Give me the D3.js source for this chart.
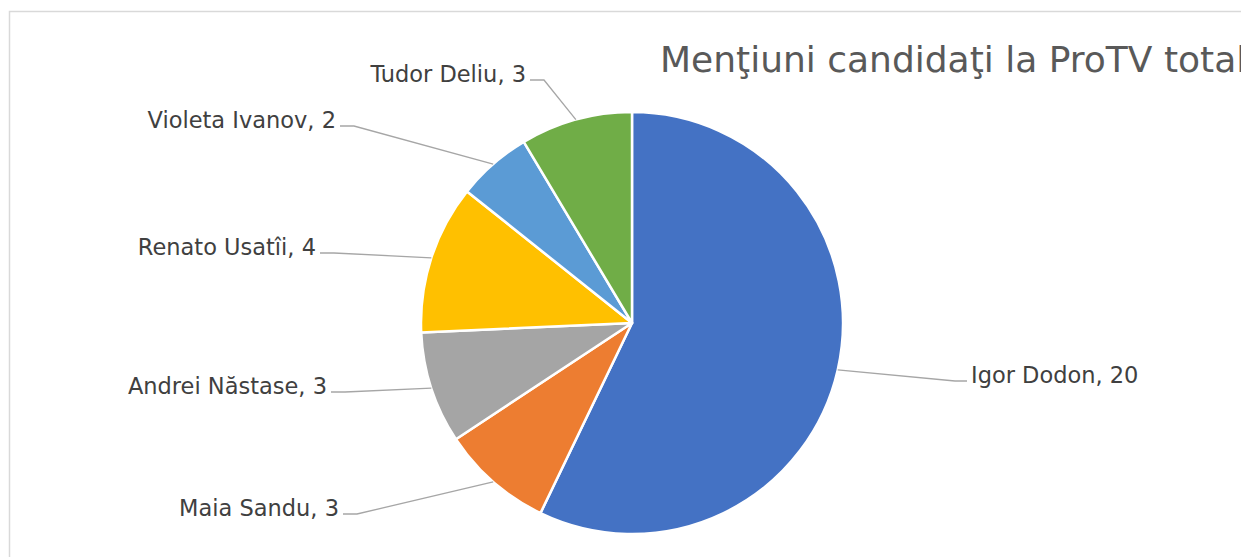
<!DOCTYPE html>
<html>
<head>
<meta charset="utf-8">
<script src="https://cdnjs.cloudflare.com/ajax/libs/d3/7.8.5/d3.min.js"></script>
<style>
body { margin: 0; background: #fff; }
svg { display: block; font-family: "DejaVu Sans", sans-serif; }
.lbl { font-size: 22.5px; fill: #404040; }
.title { font-size: 36px; fill: #595959; }
.leader { fill: none; stroke: #a6a6a6; stroke-width: 1.3; }
</style>
</head>
<body>
<svg width="1241" height="557"></svg>
<script>
// chart data
var names = ["Igor Dodon", "Maia Sandu", "Andrei Năstase", "Renato Usatîi", "Violeta Ivanov", "Tudor Deliu"];
var counts = [20, 3, 3, 4, 2, 3];
var colors = ["#4472C4", "#ED7D31", "#A5A5A5", "#FFC000", "#5B9BD5", "#70AD47"];

// where each data label sits (text baseline end / start), Excel "best fit"
var labelAt = [[971, 383], [339, 516], [327, 394], [316, 255], [336, 128], [526, 82]];

var svg = d3.select("svg");

// chart frame
svg.append("rect")
  .attr("x", 9.5).attr("y", 11.5)
  .attr("width", 1300).attr("height", 600)
  .attr("fill", "#fff")
  .attr("stroke", "#d9d9d9")
  .attr("stroke-width", 1.5);

var cx = 632, cy = 323, R = 211;
var g = svg.append("g").attr("transform", "translate(" + cx + "," + cy + ")");

var data = names.map(function(n, i) { return {name: n, value: counts[i], color: colors[i], i: i}; });

var pie = d3.pie().sort(null).value(function(d) { return d.value; });
var arc = d3.arc().innerRadius(0).outerRadius(R);
var arcs = pie(data);

g.selectAll("path.slice")
  .data(arcs)
  .enter().append("path")
  .attr("class", "slice")
  .attr("d", arc)
  .attr("fill", function(d) { return d.data.color; })
  .attr("stroke", "#fff")
  .attr("stroke-width", 2.5)
  .attr("stroke-linejoin", "round");

// leader lines + labels
arcs.forEach(function(a, i) {
  var mid = (a.startAngle + a.endAngle) / 2;
  var ex = cx + R * Math.sin(mid), ey = cy - R * Math.cos(mid);
  var lx = labelAt[i][0], ly = labelAt[i][1];
  var right = Math.sin(mid) > 0;
  var tx = right ? lx - 4 : lx + 4;        // line end near text
  var bx = right ? tx - 12 : tx + 14;      // elbow
  svg.append("path")
    .attr("class", "leader")
    .attr("d", d3.line()([[ex, ey], [bx, ly - 2], [tx, ly - 2]]));
  svg.append("text")
    .attr("class", "lbl")
    .attr("x", lx).attr("y", ly)
    .attr("text-anchor", right ? "start" : "end")
    .text(a.data.name + ", " + a.data.value);
});

// title (cut off at the right edge like the source)
svg.append("text")
  .attr("class", "title")
  .attr("x", 660).attr("y", 72)
  .text("Menţiuni candidaţi la ProTV total");
</script>
</body>
</html>
